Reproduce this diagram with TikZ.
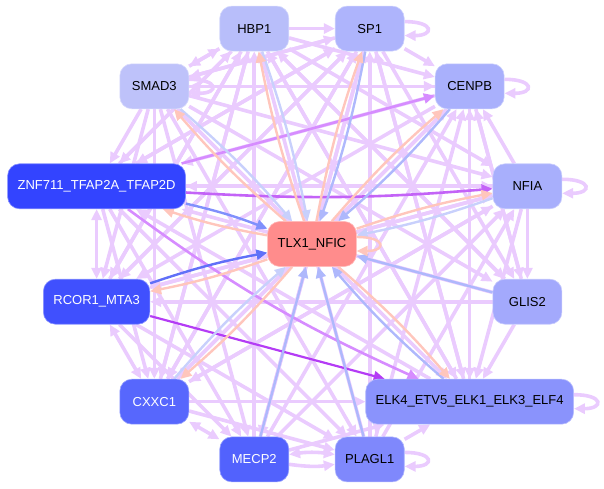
\documentclass[tikz,border=0pt]{standalone}
\usepackage{fontspec}
\setmainfont{Liberation Sans}
\usetikzlibrary{arrows.meta,backgrounds}
\definecolor{hbpc}{HTML}{B8BEFA}
\definecolor{smadc}{HTML}{BEC2FA}
\definecolor{spc}{HTML}{AEB4FC}
\definecolor{cenpbc}{HTML}{A9B0FC}
\definecolor{nfiac}{HTML}{A8AFFC}
\definecolor{glisc}{HTML}{A3A9FC}
\definecolor{elkc}{HTML}{8A93FC}
\definecolor{plaglc}{HTML}{7F88FC}
\definecolor{mecpc}{HTML}{5262FD}
\definecolor{cxxcc}{HTML}{5767FD}
\definecolor{rcorc}{HTML}{4050FE}
\definecolor{znfc}{HTML}{3344FF}
\definecolor{tlxc}{HTML}{FF8C8C}
\definecolor{edgelight}{HTML}{EACBFE}
\definecolor{edgemid}{HTML}{D68CFF}
\definecolor{edgedark}{HTML}{B43CF5}
\definecolor{edgesalmon}{HTML}{FFC6BC}
\definecolor{inpale}{HTML}{C8D0FC}
\definecolor{inlight}{HTML}{AEB8FC}
\definecolor{inmid}{HTML}{8090FC}
\definecolor{indeep}{HTML}{6070F8}
\begin{document}
\begin{tikzpicture}[x=1pt,y=1pt,
    tf/.style={fill=#1, draw=#1!60!white, line width=0.6pt,
      rounded corners=12pt, minimum width=69pt, minimum height=45pt,
      inner xsep=10pt, font=\fontsize{13}{15}\selectfont},
    dark/.style={text=white},
    tip/.style={-{Triangle[length=11pt,width=10pt]}},
    both/.style={{Triangle[length=11pt,width=10pt]}-{Triangle[length=11pt,width=10pt]}},
    tin/.style={color=#1, line width=2.4pt, tip},
    tout/.style={color=edgesalmon, line width=2.4pt, tip}]
  \useasboundingbox (-312,-245) rectangle (292,244);
  \path
    (0,0) node[tf=tlxc] (tlx) {TLX1\_NFIC}
    (105:223pt) node[tf=hbpc] (hbp) {HBP1}
    (75:223pt) node[tf=spc] (sp) {SP1}
    (45:223pt) node[tf=cenpbc] (cenpb) {CENPB}
    (15:223pt) node[tf=nfiac] (nfia) {NFIA}
    (-15:223pt) node[tf=glisc] (glis) {GLIS2}
    (-45:223pt) node[tf=elkc] (elk) {ELK4\_ETV5\_ELK1\_ELK3\_ELF4}
    (-75:223pt) node[tf=plaglc] (plagl) {PLAGL1}
    (-105:223pt) node[tf=mecpc,dark] (mecp) {MECP2}
    (-135:223pt) node[tf=cxxcc,dark] (cxxc) {CXXC1}
    (-165:223pt) node[tf=rcorc,dark] (rcor) {RCOR1\_MTA3}
    (165:223pt) node[tf=znfc,dark] (znf) {ZNF711\_TFAP2A\_TFAP2D}
    (135:223pt) node[tf=smadc] (smad) {SMAD3};
  \begin{scope}[on background layer]
    % outer ring
    \begin{scope}[color=edgelight, line width=3.6pt, tip]
      \draw (smad) to (hbp);
      \draw (znf) to (hbp);
      \draw (rcor) to (hbp);
      \draw (cxxc) to (hbp);
      \draw (mecp) to (hbp);
      \draw (plagl) to (hbp);
      \draw (elk) to (hbp);
      \draw (glis) to (hbp);
      \draw (smad) to (sp);
      \draw (znf) to (sp);
      \draw (rcor) to (sp);
      \draw (cxxc) to (sp);
      \draw (mecp) to (sp);
      \draw (plagl) to (sp);
      \draw (elk) to (sp);
      \draw (hbp) to (sp);
      \draw (hbp) to (smad);
      \draw (sp) to (smad);
      \draw (cenpb) to (smad);
      \draw (sp) to (cenpb);
      \draw (hbp) to (cenpb);
      \draw (nfia) to (cenpb);
      \draw (glis) to (cenpb);
      \draw (elk) to (cenpb);
      \draw (plagl) to (cenpb);
      \draw (mecp) to (cenpb);
      \draw (cxxc) to (cenpb);
      \draw (smad) to (cenpb);
      \draw (smad) to (nfia);
      \draw (rcor) to (nfia);
      \draw (cxxc) to (nfia);
      \draw (mecp) to (nfia);
      \draw (plagl) to (nfia);
      \draw (hbp) to (nfia);
      \draw (znf) to (nfia);
      \draw (nfia) to (glis);
      \draw (sp) to (glis);
      \draw (hbp) to (glis);
      \draw (cenpb) to (glis);
      \draw (smad) to (glis);
      \draw (glis) to (elk);
      \draw (cxxc) to (elk);
      \draw (mecp) to (elk);
      \draw (plagl) to (elk);
      \draw (sp) to (elk);
      \draw (hbp) to (elk);
      \draw (smad) to (elk);
      \draw (cenpb) to (elk);
      \draw (nfia) to (elk);
      \draw (cxxc) to (plagl);
      \draw (rcor) to (plagl);
      \draw (znf) to (plagl);
      \draw (smad) to (plagl);
      \draw (rcor) to (mecp);
      \draw (znf) to (mecp);
      \draw (smad) to (mecp);
      \draw (sp) to (mecp);
      \draw (znf) to (cxxc);
      \draw (smad) to (cxxc);
      \draw (hbp) to (cxxc);
      \draw (sp) to (cxxc);
      \draw (cenpb) to (cxxc);
      \draw (nfia) to (cxxc);
      \draw (smad) to (rcor);
      \draw (hbp) to (rcor);
      \draw (sp) to (rcor);
      \draw (cenpb) to (rcor);
      \draw (nfia) to (rcor);
      \draw (glis) to (rcor);
      \draw (smad) to (znf);
      \draw (hbp) to (znf);
      \draw (sp) to (znf);
      \draw (cenpb) to (znf);
      \draw (nfia) to (znf);
      \draw (glis) to (znf);
      \draw (elk) to (znf);
      \draw[both] (znf) to (rcor);
      \draw[both] (rcor) to (cxxc);
      \draw[both] (cxxc) to (mecp);
      \draw[both] (mecp) to[bend left=8] (plagl);
      \draw (mecp) to[bend right=8] (plagl);
      % loops
      \draw ([yshift=7pt]smad.east) to[out=0,in=0,looseness=5.5] ([yshift=-7pt]smad.east);
      \draw ([yshift=7pt]sp.east) to[out=0,in=0,looseness=5.5] ([yshift=-7pt]sp.east);
      \draw ([yshift=7pt]cenpb.east) to[out=0,in=0,looseness=5.5] ([yshift=-7pt]cenpb.east);
      \draw ([yshift=7pt]nfia.east) to[out=0,in=0,looseness=5.5] ([yshift=-7pt]nfia.east);
      \draw ([yshift=7pt]elk.east) to[out=0,in=0,looseness=5.5] ([yshift=-7pt]elk.east);
      \draw ([yshift=7pt]plagl.east) to[out=0,in=0,looseness=5.5] ([yshift=-7pt]plagl.east);
    \end{scope}
    % stronger ones
    \draw[color=edgemid, line width=2.6pt, tip] (znf) to (cenpb);
    \draw[color=edgemid, line width=2.6pt, tip] (znf) to[bend right=6] (elk);
    \draw[color=edgedark!80!white, line width=2.6pt, tip] (znf) to[bend right=4] (nfia);
    \draw[color=edgedark, line width=2.2pt, tip] (rcor) to (elk);
    % into and out of the centre
    \draw[tin=inpale] (hbp) to[bend left=4] (tlx);
    \draw[tin=inlight] (sp) to[bend left=4] (tlx);
    \draw[tin=inpale] (smad) to[bend left=4] (tlx);
    \draw[tin=inlight] (cenpb) to[bend left=4] (tlx);
    \draw[tin=inmid] (znf) to[bend left=4] (tlx);
    \draw[tin=inpale] (nfia) to[bend left=4] (tlx);
    \draw[tin=indeep] (rcor) to[bend left=4] (tlx);
    \draw[tin=inlight] (glis) to (tlx);
    \draw[tin=inpale] (cxxc) to[bend left=4] (tlx);
    \draw[tin=inlight] (elk) to[bend left=4] (tlx);
    \draw[tin=inlight] (mecp) to (tlx);
    \draw[tin=inlight] (plagl) to (tlx);
    \draw[tout] (tlx) to[bend left=4] (hbp);
    \draw[tout] (tlx) to[bend left=4] (sp);
    \draw[tout] (tlx) to[bend left=4] (smad);
    \draw[tout] (tlx) to[bend left=4] (cenpb);
    \draw[tout] (tlx) to[bend left=4] (znf);
    \draw[tout] (tlx) to[bend left=4] (nfia);
    \draw[tout] (tlx) to[bend left=4] (rcor);
    \draw[tout] (tlx) to[bend left=4] (cxxc);
    \draw[tout] (tlx) to[bend left=4] (elk);
    \draw[tout] ([yshift=7pt]tlx.east) to[out=0,in=0,looseness=5.5] ([yshift=-7pt]tlx.east);
  \end{scope}
\end{tikzpicture}
\end{document}
